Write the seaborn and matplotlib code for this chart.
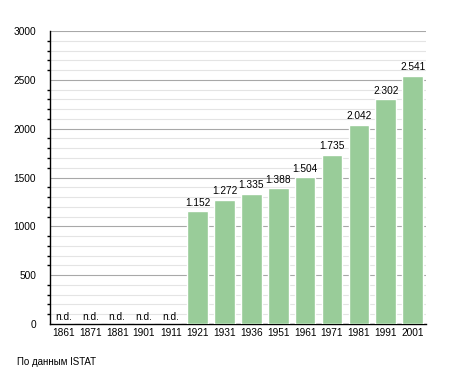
import matplotlib
matplotlib.use("Agg")
import matplotlib.pyplot as plt
import seaborn as sns
import pandas as pd
from matplotlib.ticker import MultipleLocator

years = ["1861", "1871", "1881", "1901", "1911", "1921", "1931", "1936",
         "1951", "1961", "1971", "1981", "1991", "2001"]
population = [None, None, None, None, None, 1152, 1272, 1335, 1388, 1504,
              1735, 2042, 2302, 2541]
source_text = "По данным ISTAT"

df = pd.DataFrame({"year": years,
                   "pop": [0 if v is None else v for v in population]})

sns.set_style("white")
plt.rcParams['font.family'] = ['Liberation Sans', 'DejaVu Sans']

fig = plt.figure(figsize=(4.55, 3.73), dpi=100)
ax = fig.add_axes([50/455, 1 - 324/373, 376/455, 293/373])

sns.barplot(data=df, x="year", y="pop", color="#99cc99", saturation=1,
            width=0.77, ax=ax, zorder=3)

ax.set_ylim(0, 3000)
ax.set_xlim(-0.5, len(years) - 0.5)
ax.yaxis.set_major_locator(MultipleLocator(500))
ax.yaxis.set_minor_locator(MultipleLocator(100))
ax.grid(axis="y", which="minor", color="#e4e4e4", linewidth=0.8, zorder=0)
ax.grid(axis="y", which="major", color="#a8a8a8", linewidth=0.8, zorder=1)
ax.set_axisbelow(True)

for s in ["top", "right"]:
    ax.spines[s].set_visible(False)
ax.spines["left"].set_color("black")
ax.spines["bottom"].set_color("black")
ax.spines["left"].set_linewidth(1.0)
ax.spines["bottom"].set_linewidth(1.0)

ax.tick_params(axis="y", which="major", length=4, width=1, color="black",
               labelsize=7.3, pad=6, direction="out", labelcolor="black")
ax.tick_params(axis="y", which="minor", length=2, width=1, color="black",
               left=True, direction="out")
ax.tick_params(axis="x", length=0, labelsize=7.3, pad=3, labelcolor="black")
ax.set_xlabel("")
ax.set_ylabel("")

for i, v in enumerate(population):
    if v is None:
        ax.text(i, 20, "n.d.", ha="center", va="bottom", fontsize=7.3,
                color="black")
    else:
        ax.text(i, v + 35, f"{v:,}".replace(",", "."), ha="center",
                va="bottom", fontsize=7.3, color="black")

fig.text(17/455, 1 - 362/373, source_text, fontsize=7, va="center",
         ha="left", color="black")

fig.savefig("out.png", dpi=100)
